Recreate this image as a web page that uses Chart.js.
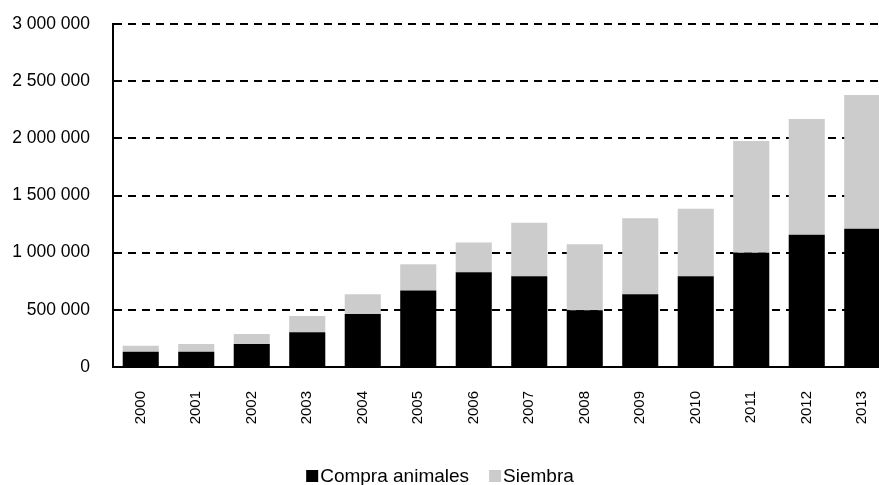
<!DOCTYPE html>
<html>
<head>
<meta charset="utf-8">
<script src="https://cdn.jsdelivr.net/npm/chart.js@4/dist/chart.umd.min.js"></script>
<style>
  html, body { margin: 0; padding: 0; background: #fff; overflow: hidden; }
  #wrap { position: relative; width: 900px; height: 485px; }
</style>
</head>
<body>
<div id="wrap"><canvas id="c"></canvas></div>
<script>
// Years on the category axis
const years = ['2000','2001','2002','2003','2004','2005','2006','2007','2008','2009','2010','2011','2012','2013'];
// Stacked series
const compraAnimales = [134000, 134000, 201000, 303000, 463000, 670000, 828000, 793000, 496000, 636000, 793000, 1000000, 1157000, 1210000];
const siembra = [51000, 67000, 88000, 143000, 173000, 228000, 262000, 469000, 577000, 664000, 592000, 977000, 1012000, 1169000];
// Value axis ticks
const yMax = 3000000;
const yStep = 500000;

const fmt = v => String(v).replace(/\B(?=(\d{3})+(?!\d))/g, ' ');
const FONT = '"Liberation Sans", Arial, sans-serif';

// Legend drawn centred under the chart
const bottomLegend = {
  id: 'bottomLegend',
  afterDraw(chart) {
    const ctx = chart.ctx;
    const box = 12, gapText = 2, gapItem = 20;
    ctx.save();
    ctx.font = '19px ' + FONT;
    ctx.textBaseline = 'alphabetic';
    const items = chart.data.datasets.map(d => ({ label: d.label, color: d.backgroundColor, w: ctx.measureText(d.label).width }));
    let total = 0;
    items.forEach((it, i) => { total += box + gapText + it.w + (i ? gapItem : 0); });
    let x = 440 - total / 2;
    const base = 482;
    items.forEach(it => {
      ctx.fillStyle = it.color;
      ctx.fillRect(x, base - 12, box, box);
      x += box + gapText;
      ctx.fillStyle = '#000';
      ctx.fillText(it.label, x, base);
      x += it.w + gapItem;
    });
    ctx.restore();
  }
};

new Chart(document.getElementById('c'), {
  type: 'bar',
  data: {
    labels: years,
    datasets: [
      { label: 'Compra animales', data: compraAnimales, backgroundColor: '#000000', borderWidth: 0 },
      { label: 'Siembra', data: siembra, backgroundColor: '#cccccc', borderWidth: 0 }
    ]
  },
  options: {
    responsive: true,
    maintainAspectRatio: false,
    animation: false,
    layout: { padding: { top: 0, right: 10, bottom: 0, left: 0 } },
    plugins: { legend: { display: false }, tooltip: { enabled: false } },
    datasets: { bar: { categoryPercentage: 1, barPercentage: 0.65 } },
    scales: {
      x: {
        stacked: true,
        grid: { display: false, drawTicks: false },
        border: { display: true, color: '#000', width: 2 },
        ticks: { minRotation: 90, maxRotation: 90, padding: 24, color: '#000', font: { family: FONT, size: 15 } },
        afterFit: s => { s.height = 118; s.paddingRight = 0; s.paddingLeft = 0; }
      },
      y: {
        stacked: true,
        min: 0,
        max: yMax,
        grid: {
          color: ctx => ctx.tick && ctx.tick.value === 0 ? 'rgba(0,0,0,0)' : '#000',
          lineWidth: 2,
          drawTicks: false
        },
        border: { display: true, color: '#000', width: 2, dash: [8, 6] },
        ticks: { stepSize: yStep, padding: 23, color: '#000', font: { family: FONT, size: 17.5 }, callback: v => fmt(v) },
        afterFit: s => { s.width = 113; s.paddingTop = 24; s.paddingBottom = 0; }
      }
    }
  },
  plugins: [bottomLegend]
});
</script>
</body>
</html>
